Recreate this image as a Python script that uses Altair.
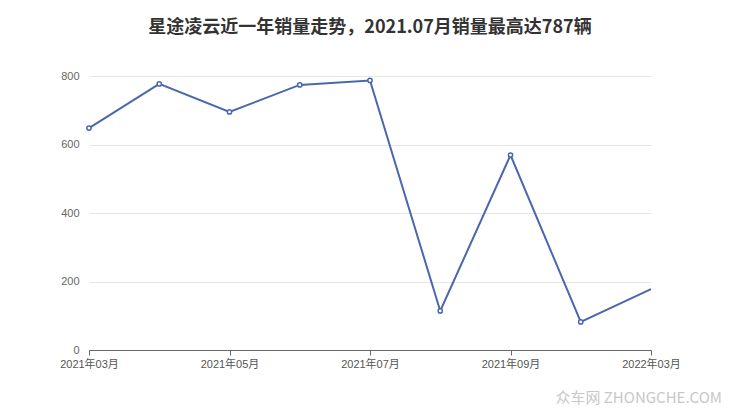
import altair as alt
import pandas as pd

months = ["2021年03月", "2021年04月", "2021年05月", "2021年06月", "2021年07月",
          "2021年08月", "2021年09月", "2021年10月", "2022年03月"]
sales = [648, 777, 695, 774, 787, 114, 569, 82, 178]
shown_labels = ["2021年03月", "2021年05月", "2021年07月", "2021年09月", "2022年03月"]
marker = [True, True, True, True, True, True, True, True, False]

df = pd.DataFrame({"month": months, "sales": sales, "marker": marker})

FONT = "Liberation Sans, Noto Sans CJK SC"
TFONT = "Noto Sans CJK SC"
COLOR = "#4a66ad"

x = alt.X("month:O", sort=months,
          scale=alt.Scale(type="point", padding=0),
          axis=alt.Axis(title=None, values=shown_labels, labelAngle=0,
                        labelFont=FONT, labelFontSize=11, labelColor="#555",
                        domainColor="#666", tickColor="#666", tickSize=5,
                        labelPadding=3, grid=False))
y = alt.Y("sales:Q", scale=alt.Scale(domain=[0, 800], nice=False),
          axis=alt.Axis(title=None, values=[0, 200, 400, 600, 800],
                        labelFont=FONT, labelFontSize=11, labelColor="#666",
                        domain=False, ticks=False, labelPadding=10,
                        gridColor="#e6e6e6"))

line = alt.Chart(df).mark_line(color=COLOR, strokeWidth=2).encode(x=x, y=y)
pts = alt.Chart(df).transform_filter("datum.marker").mark_point(
    shape="circle", filled=True, fill="white", stroke=COLOR, strokeWidth=1.5, size=18, opacity=1
).encode(x=x, y=y)

wm = alt.Chart(pd.DataFrame({"t": ["众车网  ZHONGCHE.COM"]})).mark_text(
    font=TFONT, fontSize=15, color="#c8c8c8", align="right", baseline="middle"
).encode(x=alt.value(633), y=alt.value(322), text="t:N")

chart = alt.layer(line, pts, wm).properties(
    width=562, height=274,
    background="white",
    title=alt.TitleParams("星途凌云近一年销量走势，2021.07月销量最高达787辆",
                          font=TFONT, fontSize=18, fontWeight="bold", color="#333",
                          anchor="middle", offset=33),
    autosize=alt.AutoSizeParams(type="none"),
    padding={"left": 81, "top": 68, "right": 70, "bottom": 60},
).configure_view(strokeWidth=0, stroke="transparent")

chart.save("out.html", embed_options={"renderer": "svg", "actions": False})
